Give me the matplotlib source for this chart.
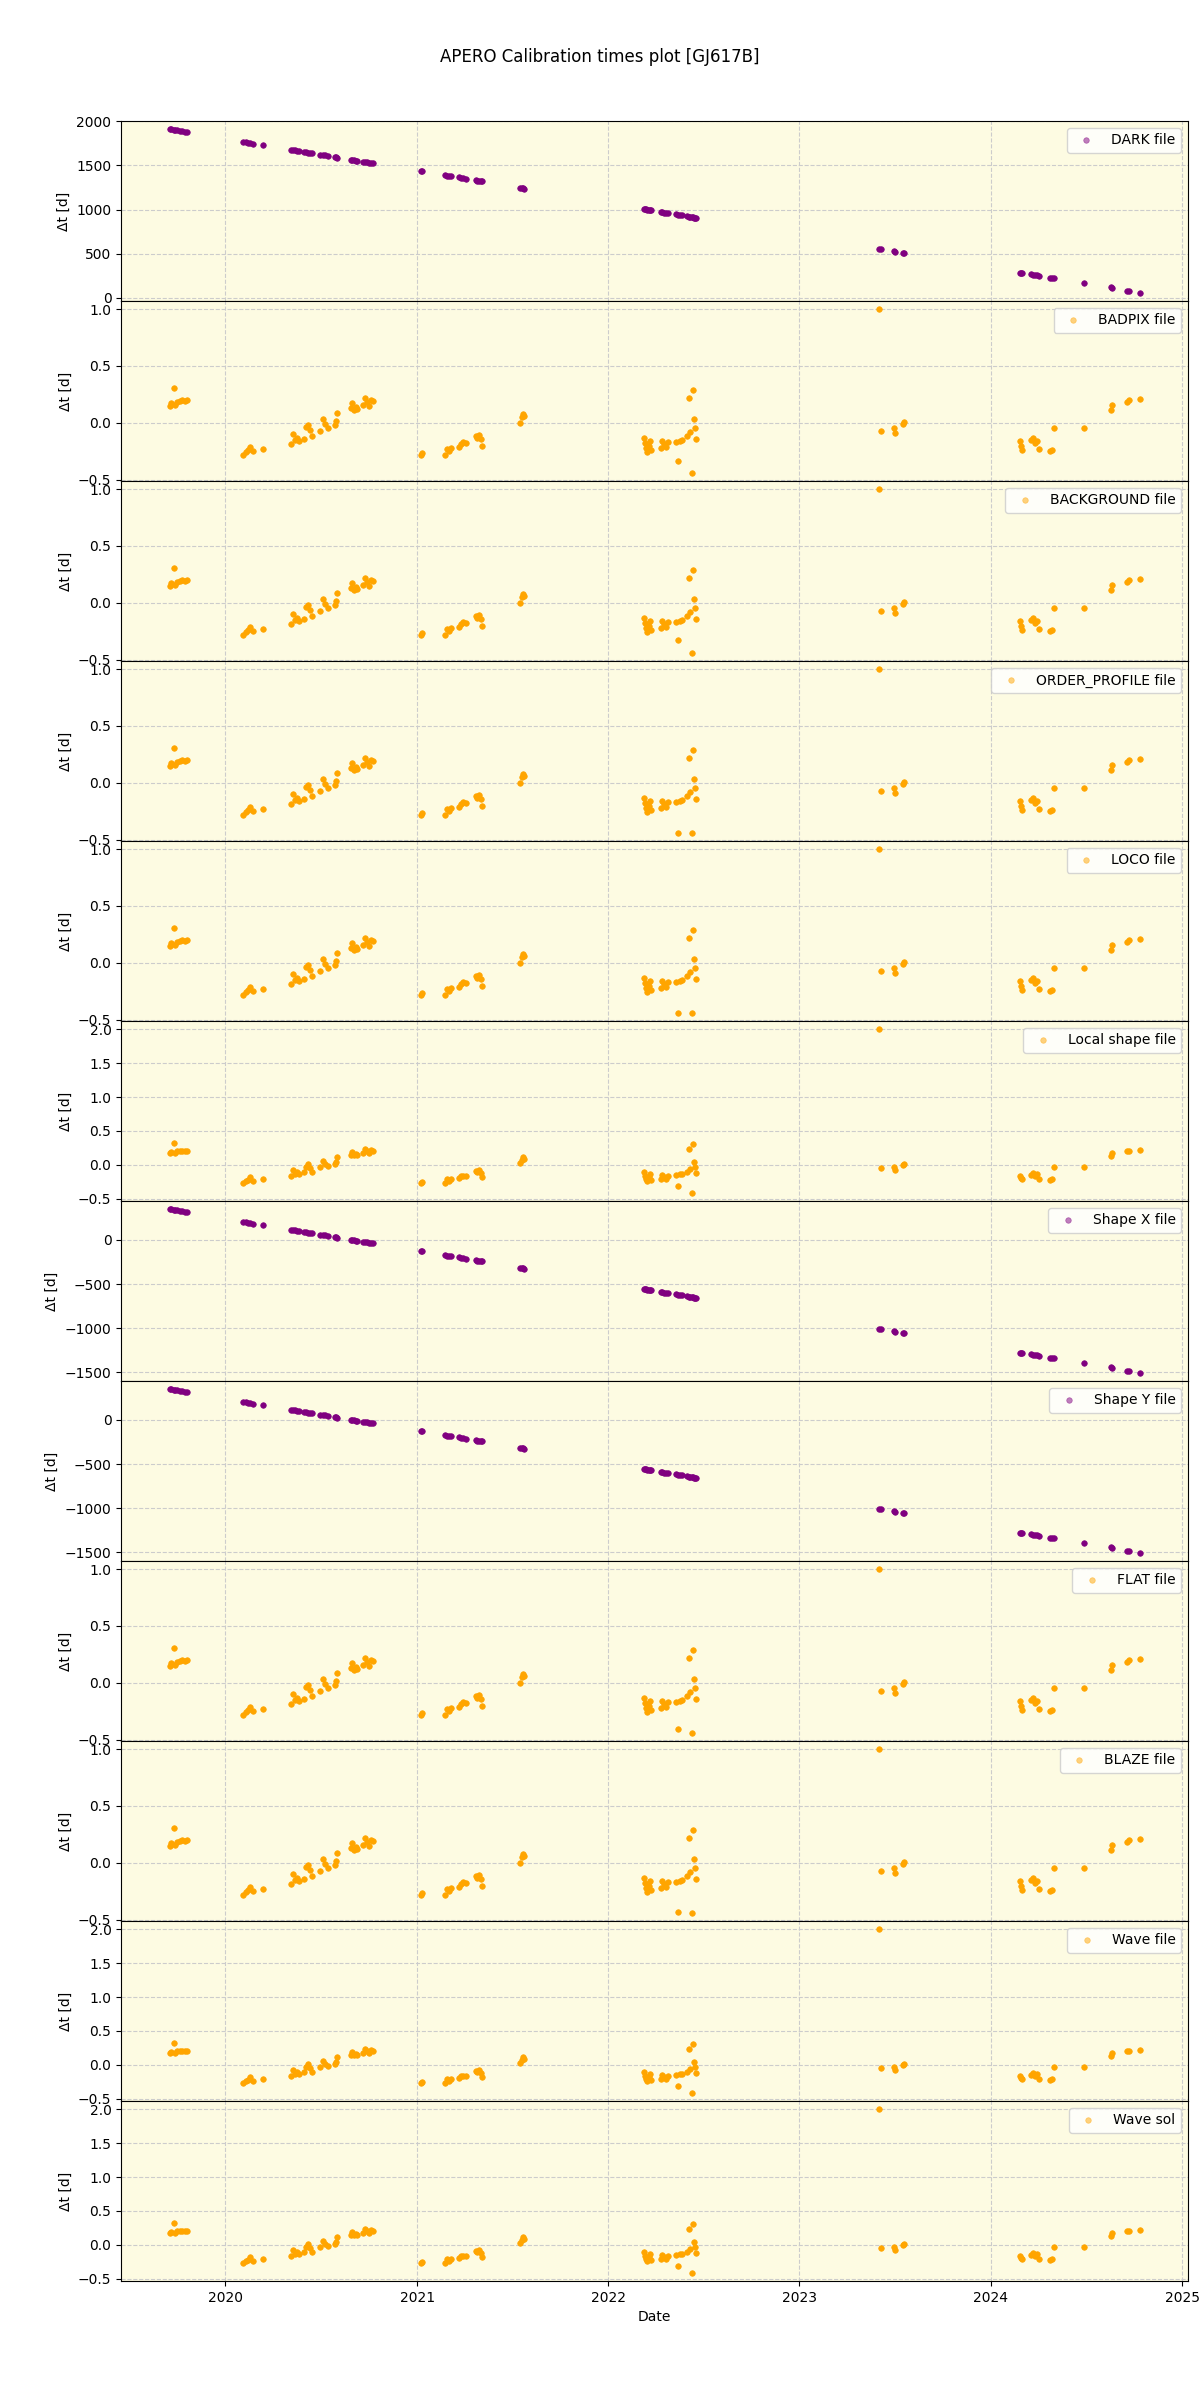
import numpy as np
import pandas as pd
import matplotlib
matplotlib.use("Agg")
from matplotlib import pyplot as plt

# observation epochs (decimal year), one line per observing run
obs_years = [
	2019.708, 2019.716, 2019.729, 2019.738, 2019.748, 2019.760, 2019.772, 2019.786, 2019.800,
	2020.092, 2020.105, 2020.118, 2020.130, 2020.142,
	2020.197,
	2020.345, 2020.355, 2020.365, 2020.375, 2020.385,
	2020.410, 2020.420, 2020.430, 2020.440, 2020.450,
	2020.496, 2020.508, 2020.520, 2020.534,
	2020.575, 2020.580, 2020.585,
	2020.655, 2020.664, 2020.672, 2020.681, 2020.690,
	2020.720, 2020.730, 2020.740, 2020.750, 2020.760, 2020.770,
	2021.018, 2021.024,
	2021.147, 2021.157, 2021.167, 2021.177,
	2021.217, 2021.229, 2021.241, 2021.253,
	2021.307, 2021.315, 2021.324, 2021.333, 2021.341,
	2021.540, 2021.547, 2021.553, 2021.560,
	2022.184, 2022.191, 2022.197, 2022.204, 2022.211, 2022.217, 2022.224,
	2022.273, 2022.283, 2022.293, 2022.303, 2022.313,
	2022.353, 2022.363, 2022.373, 2022.383,
	2022.413, 2022.420, 2022.428, 2022.435, 2022.442, 2022.448, 2022.452, 2022.459,
	2023.415, 2023.425,
	2023.492, 2023.500,
	2023.542, 2023.548,
	2024.155, 2024.160, 2024.165,
	2024.212, 2024.222, 2024.232, 2024.243, 2024.255,
	2024.310, 2024.318, 2024.330,
	2024.490,
	2024.628, 2024.634,
	2024.714, 2024.722,
	2024.778,
]

dark_dt = [
	1912, 1909, 1904, 1901, 1897, 1893, 1888, 1883, 1878,
	1766, 1762, 1757, 1753, 1749,
	1730,
	1677, 1673, 1670, 1666, 1663,
	1654, 1650, 1647, 1643, 1639,
	1622, 1618, 1614, 1609,
	1594, 1592, 1590,
	1565, 1561, 1558, 1555, 1552,
	1541, 1537, 1534, 1530, 1526, 1523,
	1437, 1435,
	1390, 1386, 1382, 1379,
	1364, 1360, 1355, 1351,
	1331, 1328, 1325, 1322, 1319,
	1246, 1243, 1241, 1238,
	1007, 1004, 1002, 999, 997, 995, 992,
	974, 971, 967, 963, 960,
	945, 941, 938, 934,
	923, 921, 918, 915, 912, 910, 909, 906,
	558, 555,
	527, 524,
	510, 508,
	286, 284, 282,
	266, 262, 259, 255, 250,
	230, 227, 223,
	170,
	118, 115,
	82, 79,
	57,
]

shape_dt = [
	349, 346, 341, 338, 334, 330, 325, 320, 315,
	203, 199, 194, 190, 186,
	167,
	114, 110, 107, 103, 100,
	91, 87, 84, 80, 76,
	59, 55, 51, 46,
	31, 29, 27,
	2, -2, -5, -8, -11,
	-22, -26, -29, -33, -37, -40,
	-126, -128,
	-173, -177, -181, -184,
	-199, -203, -208, -212,
	-232, -235, -238, -241, -244,
	-317, -320, -322, -325,
	-556, -559, -561, -564, -566, -568, -571,
	-589, -592, -596, -600, -603,
	-618, -622, -625, -629,
	-640, -642, -645, -648, -651, -653, -654, -657,
	-1005, -1008,
	-1036, -1039,
	-1053, -1055,
	-1277, -1279, -1281,
	-1297, -1301, -1304, -1308, -1313,
	-1333, -1336, -1340,
	-1393,
	-1445, -1448,
	-1481, -1484,
	-1506,
]

calib_dt = [
	0.15, 0.17, 0.31, 0.16, 0.18, 0.19, 0.20, 0.19, 0.20,
	-0.28, -0.26, -0.24, -0.21, -0.25,
	-0.23,
	-0.19, -0.10, -0.15, -0.13, -0.16,
	-0.14, -0.04, -0.02, -0.06, -0.12,
	-0.07, 0.03, -0.01, -0.05,
	-0.02, 0.02, 0.09,
	0.13, 0.17, 0.11, 0.14, 0.12,
	0.16, 0.22, 0.18, 0.15, 0.20, 0.19,
	-0.28, -0.27,
	-0.28, -0.23, -0.25, -0.22,
	-0.21, -0.19, -0.17, -0.18,
	-0.12, -0.13, -0.11, -0.14, -0.20,
	0.00, 0.05, 0.08, 0.06,
	-0.13, -0.18, -0.22, -0.26, -0.20, -0.16, -0.24,
	-0.22, -0.16, -0.19, -0.21, -0.17,
	-0.17, -0.34, -0.16, -0.15,
	-0.12, 0.22, -0.08, -0.44, 0.29, 0.03, -0.05, -0.14,
	1.00, -0.07,
	-0.05, -0.09,
	-0.01, 0.01,
	-0.16, -0.20, -0.24,
	-0.15, -0.13, -0.18, -0.16, -0.23,
	-0.25, -0.24, -0.05,
	-0.05,
	0.11, 0.16,
	0.18, 0.20,
	0.21,
]

wave_dt = [
	0.17, 0.19, 0.33, 0.18, 0.20, 0.21, 0.20, 0.21, 0.21,
	-0.26, -0.24, -0.22, -0.18, -0.23,
	-0.20,
	-0.16, -0.08, -0.13, -0.11, -0.14,
	-0.11, -0.03, 0.01, -0.04, -0.10,
	-0.03, 0.06, 0.02, -0.02,
	0.01, 0.04, 0.11,
	0.15, 0.19, 0.14, 0.16, 0.15,
	0.18, 0.24, 0.20, 0.18, 0.22, 0.21,
	-0.26, -0.25,
	-0.27, -0.21, -0.24, -0.20,
	-0.19, -0.17, -0.16, -0.17,
	-0.09, -0.11, -0.08, -0.12, -0.18,
	0.03, 0.08, 0.11, 0.09,
	-0.11, -0.16, -0.20, -0.24, -0.18, -0.14, -0.22,
	-0.21, -0.15, -0.18, -0.20, -0.16,
	-0.15, -0.31, -0.14, -0.14,
	-0.10, 0.24, -0.06, -0.41, 0.31, 0.05, -0.03, -0.12,
	2.00, -0.05,
	-0.03, -0.07,
	0.00, 0.02,
	-0.16, -0.19, -0.21,
	-0.15, -0.12, -0.16, -0.14, -0.20,
	-0.22, -0.21, -0.03,
	-0.03,
	0.13, 0.18,
	0.20, 0.21,
	0.22,
]

# the low point of 2022.363 differs a little between calibrations
low_2022 = {"BADPIX file": -0.34, "BACKGROUND file": -0.33, "ORDER_PROFILE file": -0.44,
	"LOCO file": -0.44, "FLAT file": -0.41, "BLAZE file": -0.43}

panels = [
	("DARK file", dark_dt, "purple"),
	("BADPIX file", calib_dt, "orange"),
	("BACKGROUND file", calib_dt, "orange"),
	("ORDER_PROFILE file", calib_dt, "orange"),
	("LOCO file", calib_dt, "orange"),
	("Local shape file", wave_dt, "orange"),
	("Shape X file", shape_dt, "purple"),
	("Shape Y file", shape_dt, "purple"),
	("FLAT file", calib_dt, "orange"),
	("BLAZE file", calib_dt, "orange"),
	("Wave file", wave_dt, "orange"),
	("Wave sol", wave_dt, "orange"),
]


def to_dates(years):
	out = []
	for y in years:
		base = pd.Timestamp(int(y), 1, 1)
		out.append(base + pd.Timedelta(days=(y - int(y)) * 365.25))
	return out


dates = to_dates(obs_years)
i_low = obs_years.index(2022.363)

fig, axes = plt.subplots(len(panels), 1, figsize=(12, 24), dpi=100, sharex=True)
fig.subplots_adjust(left=0.101, right=0.99, top=0.9496, bottom=0.0496, hspace=0)

for ax, (name, vals, col) in zip(axes, panels):
	yv = np.array(vals, dtype=float)
	if name in low_2022:
		yv[i_low] = low_2022[name]
	ax.plot(dates, yv, "o", color=col, ms=4, mew=0.5, label=name)
	ax.set_facecolor("#fdfbe2")
	ax.grid(True, color="0.8", linestyle="--")
	ax.set_ylabel("\u0394t [d]")
	leg = ax.legend(loc="upper right")
	for h in leg.legend_handles:
		h.set_alpha(0.5)

axes[-1].set_xlabel("Date")
fig.suptitle("APERO Calibration times plot [GJ617B]")

fig.savefig("out.png")
